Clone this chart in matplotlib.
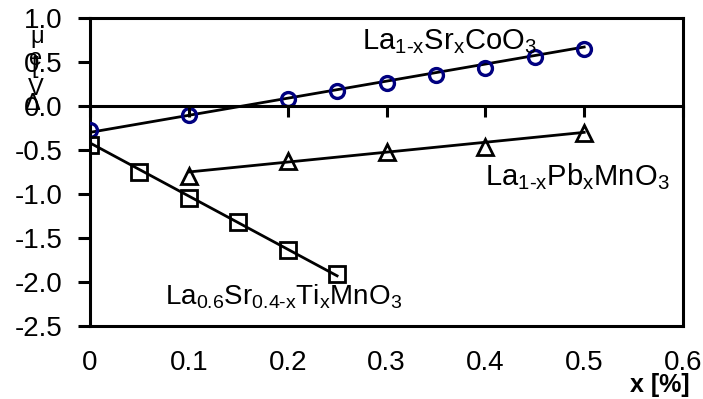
"""Seebeck-type shift vs. doping for three perovskite series."""
import matplotlib.pyplot as plt
from matplotlib.ticker import FixedLocator, FixedFormatter

plt.rcParams['font.family'] = ['Liberation Sans', 'DejaVu Sans']
plt.rcParams['axes.unicode_minus'] = False
plt.rcParams['mathtext.fontset'] = 'custom'
plt.rcParams['mathtext.rm'] = 'Liberation Sans'
plt.rcParams['mathtext.it'] = 'Liberation Sans'

# La(1-x)Sr(x)CoO3
sr_x = [0.0, 0.1, 0.2, 0.25, 0.3, 0.35, 0.4, 0.45, 0.5]
sr_y = [-0.27, -0.10, 0.08, 0.17, 0.26, 0.35, 0.43, 0.56, 0.65]
sr_fit_x = [0.0, 0.5]
sr_fit_y = [-0.30, 0.67]

# La(1-x)Pb(x)MnO3
pb_x = [0.1, 0.2, 0.3, 0.4, 0.5]
pb_y = [-0.80, -0.63, -0.52, -0.47, -0.31]
pb_fit_x = [0.1, 0.5]
pb_fit_y = [-0.75, -0.30]

# La0.6Sr(0.4-x)Ti(x)MnO3
ti_x = [0.0, 0.05, 0.1, 0.15, 0.2, 0.25]
ti_y = [-0.44, -0.75, -1.05, -1.32, -1.64, -1.91]
ti_fit_x = [0.0, 0.25]
ti_fit_y = [-0.42, -1.93]

x_ticks = [0.0, 0.1, 0.2, 0.3, 0.4, 0.5, 0.6]
x_labels = ['0', '0.1', '0.2', '0.3', '0.4', '0.5', '0.6']
y_ticks = [1.0, 0.5, 0.0, -0.5, -1.0, -1.5, -2.0, -2.5]
y_labels = ['1.0', '0.5', '0.0', '-0.5', '-1.0', '-1.5', '-2.0', '-2.5']

fig = plt.figure(figsize=(7.03, 3.99), dpi=100)
ax = fig.add_axes([0.128, 0.183, 0.8436, 0.772])

lw = 2.0
ax.plot(sr_fit_x, sr_fit_y, color='black', lw=lw, zorder=2)
ax.plot(pb_fit_x, pb_fit_y, color='black', lw=lw, zorder=2)
ax.plot(ti_fit_x, ti_fit_y, color='black', lw=lw, zorder=2)

ax.plot(sr_x, sr_y, 'o', ms=10, mfc='none', mec='#000080', mew=2.4, zorder=3)
ax.plot(pb_x, pb_y, '^', ms=11, mfc='none', mec='black', mew=2.0, zorder=3)
ax.plot(ti_x, ti_y, 's', ms=12, mfc='none', mec='black', mew=2.0, zorder=3)

ax.set_xlim(0, 0.6)
ax.set_ylim(-2.5, 1.0)
for s in ax.spines.values():
    s.set_linewidth(2.2)

ax.xaxis.set_major_locator(FixedLocator(x_ticks))
ax.xaxis.set_major_formatter(FixedFormatter(x_labels))
ax.yaxis.set_major_locator(FixedLocator(y_ticks))
ax.yaxis.set_major_formatter(FixedFormatter(y_labels))
ax.tick_params(axis='x', length=0, pad=17, labelsize=20)
ax.tick_params(axis='y', direction='out', length=8.5, width=2.2,
               pad=11, labelsize=20)

# horizontal axis line through y = 0 carrying the x tick marks
ax0 = ax.twiny()
ax0.set_xlim(0, 0.6)
for name in ('top', 'left', 'right'):
    ax0.spines[name].set_visible(False)
ax0.spines['bottom'].set_position(('data', 0))
ax0.spines['bottom'].set_linewidth(2.2)
ax0.xaxis.set_ticks_position('bottom')
ax0.xaxis.set_major_locator(FixedLocator(x_ticks))
ax0.tick_params(axis='x', direction='out', length=8, width=2.2,
                labelbottom=False, labeltop=False)

ax.text(0.275, 0.73, r'La$_{1\text{-}x}$Sr$_x$CoO$_3$', fontsize=21,
        va='center', ha='left')
ax.text(0.40, -0.80, r'La$_{1\text{-}x}$Pb$_x$MnO$_3$', fontsize=21,
        va='center', ha='left')
ax.text(0.076, -2.17, r'La$_{0.6}$Sr$_{0.4\text{-}x}$Ti$_x$MnO$_3$',
        fontsize=20, va='center', ha='left')

ax.text(630 / 703, 1 - 385 / 399, 'x [%]', transform=fig.transFigure,
        fontsize=18, fontweight='bold', ha='left', va='center')

# stacked y label characters
for ch, xp, yp in [('μ', 37, 37), ('e', 36, 59), ('[', 35, 67),
                   ('V', 36, 89), ('Δ', 32, 104)]:
    fig.text(xp / 703, 1 - yp / 399, ch, fontsize=17,
             ha='center', va='center')

fig.savefig('out.png', dpi=100)
